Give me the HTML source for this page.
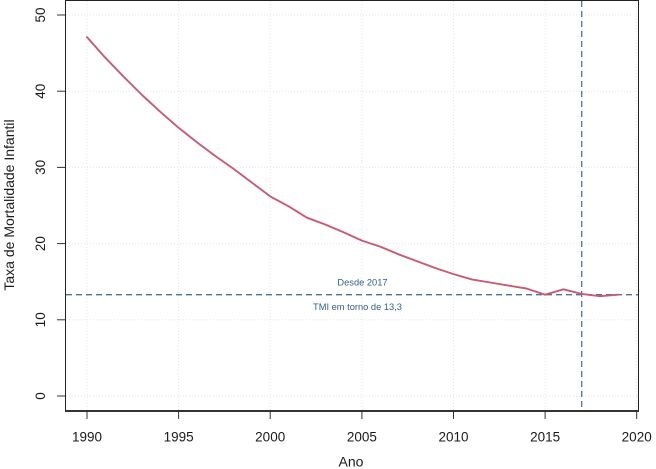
<!DOCTYPE html>
<html>
<head>
<meta charset="utf-8">
<style>
  html, body { margin: 0; padding: 0; background: #ffffff; }
  svg { display: block; }
  text { font-family: "Liberation Sans", Arial, sans-serif; }
</style>
</head>
<body>
<svg width="656" height="469" viewBox="0 0 656 469" xmlns="http://www.w3.org/2000/svg">
  <rect x="0" y="0" width="656" height="469" fill="#ffffff"/>

  <!-- grid -->
  <g stroke="#e6e6e6" stroke-width="1" stroke-dasharray="1,2" fill="none">
    <line x1="87" y1="1" x2="87" y2="410"/>
    <line x1="178.6" y1="1" x2="178.6" y2="410"/>
    <line x1="270.2" y1="1" x2="270.2" y2="410"/>
    <line x1="361.9" y1="1" x2="361.9" y2="410"/>
    <line x1="453.5" y1="1" x2="453.5" y2="410"/>
    <line x1="545.1" y1="1" x2="545.1" y2="410"/>
    <line x1="636.7" y1="1" x2="636.7" y2="410"/>
    <line x1="66" y1="396" x2="638" y2="396"/>
    <line x1="66" y1="319.8" x2="638" y2="319.8"/>
    <line x1="66" y1="243.6" x2="638" y2="243.6"/>
    <line x1="66" y1="167.4" x2="638" y2="167.4"/>
    <line x1="66" y1="91.2" x2="638" y2="91.2"/>
    <line x1="66" y1="15" x2="638" y2="15"/>
  </g>

  <!-- plot box -->
  <rect x="65.5" y="0.5" width="573" height="410.5" fill="none" stroke="#222" stroke-width="1"/>
  <line x1="65" y1="411" x2="639" y2="411" stroke="#333" stroke-width="2"/>

  <!-- y ticks -->
  <g stroke="#333" stroke-width="1">
    <line x1="57" y1="396" x2="65" y2="396"/>
    <line x1="57" y1="319.8" x2="65" y2="319.8"/>
    <line x1="57" y1="243.6" x2="65" y2="243.6"/>
    <line x1="57" y1="167.4" x2="65" y2="167.4"/>
    <line x1="57" y1="91.2" x2="65" y2="91.2"/>
    <line x1="57" y1="15" x2="65" y2="15"/>
  </g>
  <!-- x ticks -->
  <g stroke="#333" stroke-width="1">
    <line x1="87" y1="411" x2="87" y2="419"/>
    <line x1="178.6" y1="411" x2="178.6" y2="419"/>
    <line x1="270.2" y1="411" x2="270.2" y2="419"/>
    <line x1="361.9" y1="411" x2="361.9" y2="419"/>
    <line x1="453.5" y1="411" x2="453.5" y2="419"/>
    <line x1="545.1" y1="411" x2="545.1" y2="419"/>
    <line x1="636.7" y1="411" x2="636.7" y2="419"/>
  </g>

  <!-- y tick labels (rotated) -->
  <g font-size="13.5" fill="#1a1a1a" text-anchor="middle">
    <text transform="translate(45,396) rotate(-90)">0</text>
    <text transform="translate(45,319.8) rotate(-90)">10</text>
    <text transform="translate(45,243.6) rotate(-90)">20</text>
    <text transform="translate(45,167.4) rotate(-90)">30</text>
    <text transform="translate(45,91.2) rotate(-90)">40</text>
    <text transform="translate(45,15) rotate(-90)">50</text>
  </g>
  <!-- x tick labels -->
  <g font-size="13.5" fill="#1a1a1a" text-anchor="middle">
    <text x="87" y="441.5">1990</text>
    <text x="178.6" y="441.5">1995</text>
    <text x="270.2" y="441.5">2000</text>
    <text x="361.9" y="441.5">2005</text>
    <text x="453.5" y="441.5">2010</text>
    <text x="545.1" y="441.5">2015</text>
    <text x="636.7" y="441.5">2020</text>
  </g>

  <!-- axis titles -->
  <text x="351" y="466.5" font-size="14" fill="#1a1a1a" text-anchor="middle">Ano</text>
  <text transform="translate(14,205) rotate(-90)" font-size="14" fill="#1a1a1a" text-anchor="middle">Taxa de Mortalidade Infantil</text>

  <!-- reference lines -->
  <line x1="66" y1="294.7" x2="638" y2="294.7" stroke="#4a74a0" stroke-width="1.3" stroke-dasharray="6,4"/>
  <line x1="581.7" y1="1" x2="581.7" y2="410" stroke="#4a74a0" stroke-width="1.3" stroke-dasharray="6,4"/>

  <!-- data line -->
  <polyline fill="none" stroke="#c85a74" stroke-width="1.9" stroke-linejoin="round" stroke-linecap="round"
    points="87,37.1 105.3,57.7 123.6,76.7 142,95 160.3,111.8 178.6,127.8 196.9,142.3 215.3,156 233.6,168.9 251.9,182.6 270.2,196.4 288.6,206.3 306.9,217.7 325.2,224.5 343.5,232.2 361.9,240.6 380.2,246.6 398.5,254.3 416.8,261.1 435.2,268 453.5,274.1 471.8,279.4 490.1,282.5 508.4,285.5 526.8,288.6 545.1,294.7 563.4,289.3 581.7,293.9 600,296.2 618.4,294.7"/>

  <!-- annotations -->
  <text x="362.5" y="285.3" font-size="9.3" fill="#2f5f8f" text-anchor="middle">Desde 2017</text>
  <text x="357.5" y="310" font-size="9.3" fill="#2f5f8f" text-anchor="middle">TMI em torno de 13,3</text>
</svg>
</body>
</html>
